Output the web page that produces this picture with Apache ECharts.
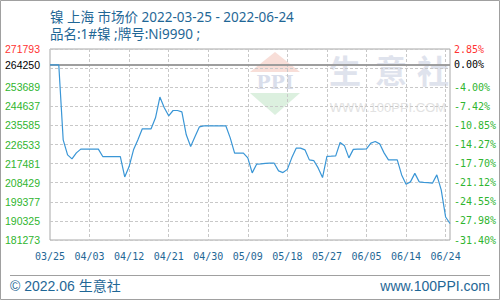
<!DOCTYPE html>
<html><head><meta charset="utf-8">
<script src="https://cdn.jsdelivr.net/npm/echarts@6/dist/echarts.min.js"></script>
<style>html,body{margin:0;padding:0;background:#fff}#c{width:500px;height:300px}</style>
</head><body><div id="c"></div>
<script>
// ---- data ----
const dates = [
  '03/25','03/26','03/27','03/28','03/29','03/30','03/31',
  '04/01','04/02','04/03','04/04','04/05','04/06','04/07','04/08','04/09','04/10',
  '04/11','04/12','04/13','04/14','04/15','04/16','04/17','04/18','04/19','04/20',
  '04/21','04/22','04/23','04/24','04/25','04/26','04/27','04/28','04/29','04/30',
  '05/01','05/02','05/03','05/04','05/05','05/06','05/07','05/08','05/09','05/10',
  '05/11','05/12','05/13','05/14','05/15','05/16','05/17','05/18','05/19','05/20',
  '05/21','05/22','05/23','05/24','05/25','05/26','05/27','05/28','05/29','05/30','05/31',
  '06/01','06/02','06/03','06/04','06/05','06/06','06/07','06/08','06/09','06/10',
  '06/11','06/12','06/13','06/14','06/15','06/16','06/17','06/18','06/19','06/20',
  '06/21','06/22','06/23','06/24'
];
const prices = [
  264250,264250,264250,228740,221620,219720,222570,
  224330,224330,224330,224330,224330,220820,220820,220820,220820,220820,
  211180,216070,224000,228740,233960,233960,233960,239190,249010,243930,
  240140,242650,242650,242030,231120,225560,230310,234910,235390,235390,
  235390,235390,235390,235390,229690,222430,222430,222430,220200,213080,
  217210,217350,217590,217680,217680,214030,213220,214740,220200,224800,
  224800,224000,219250,218920,215450,210850,220910,220990,221150,227460,225900,
  220200,224230,224330,224330,224470,227180,227940,226840,222570,219250,
  219250,219250,212130,207710,208810,212840,208810,208570,208470,208190,
  212130,205010,192190,189110
];
const xTickLabels = ['03/25','04/03','04/12','04/21','04/30','05/09','05/18','05/27','06/05','06/14','06/24'];
const basePrice = 264250;
const yMin = 181273;
const yMax = 271793;
const yStep = 9052;

const titleText = '镍 上海 市场价 2022-03-25 - 2022-06-24';
const subText = '品名:1#镍 ;牌号:Ni9990 ;';
const footLeft = '© 2022.06 生意社';
const footRight = 'www.100PPI.com';

// ---- chart ----
const RED = '#ff3333', GREEN = '#2fb52f', BLUE_TXT = '#1f6796';
const chart = echarts.init(document.getElementById('c'), null, {renderer: 'svg'});
const tickEvery = 9;
const isTick = (i) => i % tickEvery === 0 && i / tickEvery < xTickLabels.length;
const nearBase = (v) => v !== basePrice && Math.abs(v - basePrice) < yStep / 2;

chart.setOption({
  animation: false,
  backgroundColor: '#fff',
  grid: {left: 50, right: 50, top: 49, bottom: 60, show: true, borderColor: '#a8a8a8', borderWidth: 1, backgroundColor: 'transparent'},
  xAxis: {
    type: 'category', data: dates, boundaryGap: false,
    axisLine: {show: false}, axisTick: {show: false},
    axisLabel: {
      interval: (i) => isTick(i), margin: 11,
      fontFamily: 'DejaVu Sans Mono', fontSize: 10, color: BLUE_TXT,
      formatter: (v, i) => xTickLabels[i / tickEvery]
    },
    splitLine: {show: true, interval: (i) => isTick(i) && i > 0, lineStyle: {color: '#c8c8c8', type: [3, 2], width: 1}}
  },
  yAxis: [{
    type: 'value', min: yMin, max: yMax, interval: yStep, position: 'left',
    axisLine: {show: false}, axisTick: {show: false},
    axisLabel: {
      margin: 10, fontFamily: 'Liberation Sans', fontSize: 10.5,
      formatter: (v) => nearBase(v) ? '' : String(v),
      color: (v) => Number(v) === yMax ? RED : GREEN
    },
    splitLine: {lineStyle: {color: '#c8c8c8', type: [3, 2], width: 1}}
  }, {
    type: 'value', min: yMin, max: yMax, interval: yStep, position: 'right',
    axisLine: {show: false}, axisTick: {show: false}, splitLine: {show: false},
    axisLabel: {
      margin: 4, fontFamily: 'DejaVu Sans Mono', fontSize: 10,
      formatter: (v) => nearBase(v) ? '' : ((v / basePrice - 1) * 100).toFixed(2) + '%',
      color: (v) => Number(v) === yMax ? RED : GREEN
    }
  }],
  series: [{
    type: 'line', data: prices, symbol: 'none', z: 5,
    lineStyle: {color: '#3a96d6', width: 1.2},
    markLine: {
      silent: true, symbol: 'none', animation: false,
      lineStyle: {color: '#999', type: 'solid', width: 1.5},
      data: [
        {yAxis: basePrice, label: {position: 'start', distance: 10, formatter: String(basePrice), color: '#000', fontFamily: 'Liberation Sans', fontSize: 10.5}},
        {yAxis: basePrice, label: {position: 'end', distance: 4, formatter: '0.00%', color: '#000', fontFamily: 'DejaVu Sans Mono', fontSize: 10}}
      ]
    }
  }],
  graphic: [
    // watermark
    {type: 'polygon', z: -10, silent: true, shape: {points: [[275, 52], [250, 72], [300, 72]]}, style: {fill: '#f8ded8'}},
    {type: 'text', z: -10, silent: true, style: {text: 'PPI', x: 275, y: 82, textAlign: 'center', textVerticalAlign: 'middle', font: 'bold 19px "DejaVu Serif"', fill: '#d9deeb'}},
    {type: 'polygon', z: -10, silent: true, shape: {points: [[250, 93], [300, 93], [275, 115]]}, style: {fill: '#dcf0df'}},
    {type: 'text', z: -10, silent: true, style: {text: '生', x: 345, y: 69, textAlign: 'center', textVerticalAlign: 'middle', font: 'bold 32px "Noto Sans CJK SC"', fill: '#dfe3ed'}},
    {type: 'text', z: -10, silent: true, style: {text: '意', x: 391, y: 69, textAlign: 'center', textVerticalAlign: 'middle', font: 'bold 32px "Noto Sans CJK SC"', fill: '#dfe3ed'}},
    {type: 'text', z: -10, silent: true, style: {text: '社', x: 433, y: 69, textAlign: 'center', textVerticalAlign: 'middle', font: 'bold 32px "Noto Sans CJK SC"', fill: '#dfe3ed'}},
    {type: 'text', z: -10, silent: true, style: {text: 'WWW.100PPI.COM', x: 388, y: 107, textAlign: 'center', textVerticalAlign: 'middle', font: '13px "Liberation Sans"', fill: '#e2e2e2'}},
    // titles
    {type: 'text', silent: true, style: {text: titleText, x: 50, y: 16.5, textVerticalAlign: 'middle', font: '13.5px "Noto Sans", "Noto Sans CJK SC"', fill: BLUE_TXT}},
    {type: 'text', silent: true, style: {text: subText, x: 50, y: 33.5, textVerticalAlign: 'middle', font: '13.5px "Noto Sans", "Noto Sans CJK SC"', fill: BLUE_TXT}},
    // footer
    {type: 'line', silent: true, shape: {x1: 10, y1: 275.5, x2: 490, y2: 275.5}, style: {stroke: '#a0a0a0', lineWidth: 1}},
    {type: 'text', silent: true, style: {text: footLeft, x: 10, y: 286, textVerticalAlign: 'middle', font: '14px "Liberation Sans", "Noto Sans CJK SC"', fill: BLUE_TXT}},
    {type: 'text', silent: true, style: {text: footRight, x: 490, y: 286, textAlign: 'right', textVerticalAlign: 'middle', font: '14px "Liberation Sans"', fill: BLUE_TXT}},
    // outer frame
    {type: 'rect', silent: true, shape: {x: 0.5, y: 0.5, width: 499, height: 299}, style: {fill: 'none', stroke: '#a0a0a0', lineWidth: 1}}
  ]
});
</script>
</body></html>
